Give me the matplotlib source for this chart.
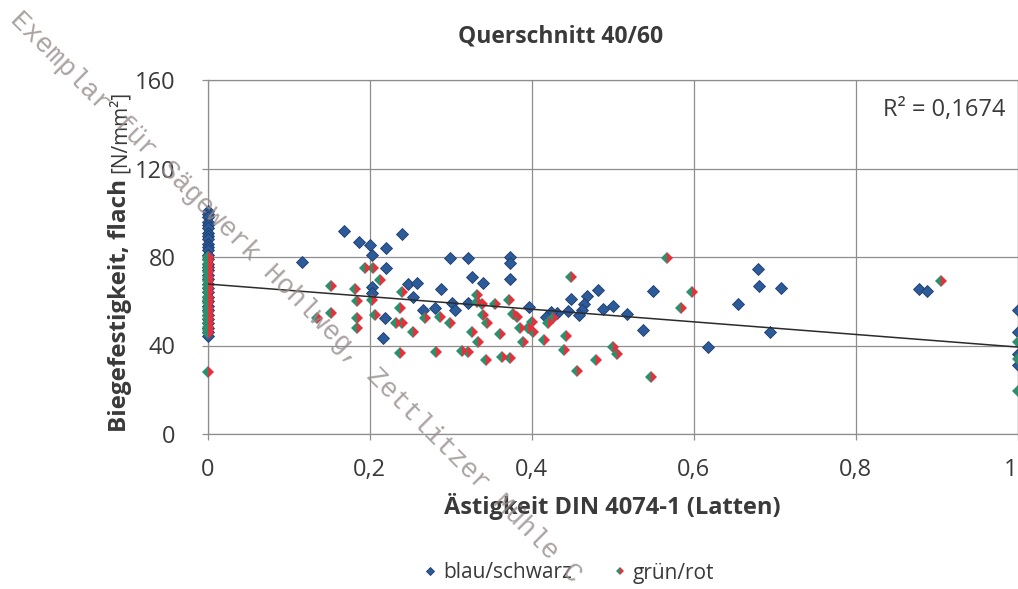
import matplotlib
matplotlib.use("Agg")
import matplotlib.pyplot as plt
from matplotlib.ticker import FixedLocator, FuncFormatter

# ---------------------------------------------------------------------------
# Data: Ästigkeit (knot ratio) vs. bending strength, cross section 40/60
# ---------------------------------------------------------------------------
title = "Querschnitt 40/60"
x_label = "Ästigkeit DIN 4074-1 (Latten)"
y_label_bold = "Biegefestigkeit, flach"
y_label_unit = "[N/mm²]"
series_names = ["blau/schwarz", "grün/rot"]

x_ticks = [0, 0.2, 0.4, 0.6, 0.8, 1.0]
y_ticks = [0, 40, 80, 120, 160]

# blau/schwarz: specimens without knots (x = 0)
blau_knotfree_y = [101, 99.5, 98, 96, 94.5, 93, 91, 89.5, 88, 86, 84.5, 83,
                   81, 79, 77, 75.5, 74, 72, 70, 68, 66, 64, 62, 60, 58, 56,
                   54, 52, 50, 48, 46, 44.5]
# blau/schwarz: specimens with knots
blau_x = [0.117, 0.168, 0.187, 0.200, 0.220, 0.203, 0.240, 0.299, 0.322,
          0.220, 0.327, 0.340, 0.248, 0.259, 0.203, 0.288, 0.203, 0.254,
          0.302, 0.306, 0.322, 0.281, 0.266, 0.219, 0.217,
          0.373, 0.373, 0.373, 0.482, 0.469, 0.449, 0.397, 0.465, 0.462,
          0.459, 0.445, 0.488, 0.501, 0.518, 0.538, 0.431, 0.424, 0.418,
          0.550, 0.618, 0.680, 0.681, 0.708, 0.655, 0.694,
          0.878, 0.888,
          1.0, 1.0, 1.0, 1.0]
blau_y = [77.7, 91.7, 86.8, 85.4, 84.0, 80.9, 90.4, 79.5, 79.5,
          75.0, 70.9, 68.2, 67.8, 68.2, 66.4, 65.5, 63.7, 61.9,
          59.2, 56.0, 59.2, 56.9, 56.0, 52.4, 43.4,
          80.0, 77.3, 70.0, 65.0, 62.4, 61.0, 57.4, 58.7, 56.0,
          53.8, 55.6, 56.5, 57.8, 54.2, 47.0, 54.7, 55.1, 52.9,
          64.6, 39.3, 74.6, 66.9, 66.0, 58.7, 46.1,
          65.5, 64.6,
          56.0, 46.1, 36.0, 31.2]

# grün/rot: specimens without knots (x = 0)
gruen_knotfree_y = [80, 78.5, 77, 75, 73, 71, 69, 67.5, 66, 64, 62, 60.5,
                    59, 57, 55, 53.5, 52, 50, 48.5, 47, 45.5, 28]
# grün/rot: specimens with knots
gruen_x = [0.152, 0.182, 0.185, 0.152, 0.135, 0.185, 0.185,
           0.195, 0.204, 0.213, 0.240, 0.333, 0.333, 0.339, 0.355, 0.203,
           0.238, 0.207, 0.269, 0.287, 0.340, 0.233, 0.240, 0.299, 0.345,
           0.254, 0.327, 0.361, 0.334, 0.238, 0.282, 0.314, 0.322, 0.344,
           0.364,
           0.449, 0.372, 0.377, 0.382, 0.426, 0.401, 0.420, 0.396, 0.386,
           0.402, 0.443, 0.416, 0.390, 0.440, 0.500, 0.506, 0.373, 0.480,
           0.456,
           0.567, 0.598, 0.585, 0.548,
           0.906,
           1.0, 1.0, 1.0]
gruen_y = [66.9, 65.5, 60.0, 54.7, 52.4, 52.4, 47.9,
           75.0, 75.0, 69.6, 64.2, 62.8, 59.6, 58.7, 58.7, 60.5,
           56.9, 53.8, 52.4, 52.9, 53.8, 50.2, 50.2, 50.2, 50.2,
           46.1, 46.1, 45.2, 41.6, 36.6, 37.1, 37.5, 37.1, 33.4,
           34.8,
           70.9, 60.5, 54.2, 52.9, 52.4, 50.6, 50.2, 47.9, 47.9,
           46.1, 44.3, 42.5, 41.6, 38.0, 39.3, 36.1, 34.3, 33.4,
           28.5,
           79.5, 64.2, 56.9, 25.8,
           69.1,
           41.6, 33.9, 19.4]

# linear trend over all specimens
trend_intercept = 67.8
trend_slope = -28.5
r_squared = 0.1674

# ---------------------------------------------------------------------------
W, H, DPI = 1018, 589, 100
FONT = "Open Sans"
TEXT_COLOR = "#3a3a3a"
GRID_COLOR = "#8e8e8e"
BLUE = "#2d5a98"
BLUE_EDGE = "#1e3d6b"
GREEN = "#2f8f6c"
RED = "#e3323c"

plt.rcParams["font.family"] = [FONT, "DejaVu Sans"]

fig = plt.figure(figsize=(W / DPI, H / DPI), dpi=DPI, facecolor="white")
ax = fig.add_axes([207.5 / W, 1 - 434 / H, (1017.5 - 207.5) / W, (434 - 80) / H])

ax.set_xlim(0, 1)
ax.set_ylim(0, 160)

blau_all_x = [0.0] * len(blau_knotfree_y) + blau_x
blau_all_y = blau_knotfree_y + blau_y
gruen_all_x = [0.0] * len(gruen_knotfree_y) + gruen_x
gruen_all_y = gruen_knotfree_y + gruen_y

ax.plot(blau_all_x, blau_all_y, linestyle="none", marker="D", markersize=6.2,
        markerfacecolor=BLUE, markeredgecolor=BLUE_EDGE, markeredgewidth=0.6,
        label=series_names[0], zorder=3, clip_on=False)
ax.plot(gruen_all_x, gruen_all_y, linestyle="none", marker="D", markersize=6.2,
        fillstyle="left", markerfacecolor=GREEN, markerfacecoloralt=RED,
        markeredgewidth=0, label=series_names[1], zorder=4, clip_on=False)

# trend line
tx = [0.0, 1.0]
ty = [trend_intercept + trend_slope * v for v in tx]
ax.plot(tx, ty, color="#2b2b2b", linewidth=1.1, zorder=5)

ax.text(0.985, 0.915, f"R² = {r_squared:.4f}".replace(".", ","),
        transform=ax.transAxes, ha="right", va="center", fontsize=17,
        color=TEXT_COLOR, zorder=6)

# axes styling
ax.xaxis.set_major_locator(FixedLocator(x_ticks))
ax.yaxis.set_major_locator(FixedLocator(y_ticks))
ax.xaxis.set_major_formatter(FuncFormatter(lambda v, p: f"{v:g}".replace(".", ",")))
ax.yaxis.set_major_formatter(FuncFormatter(lambda v, p: f"{v:g}"))
ax.grid(True, color=GRID_COLOR, linewidth=0.9)
ax.set_axisbelow(True)
for sp in ax.spines.values():
    sp.set_color(GRID_COLOR)
    sp.set_linewidth(0.9)
ax.tick_params(axis="both", direction="out", length=4, width=0.9,
               color=GRID_COLOR, labelcolor=TEXT_COLOR, labelsize=17)
ax.tick_params(axis="y", pad=19)
ax.tick_params(axis="x", pad=13)

# keep the last x label inside the sheet
fig.canvas.draw()
xlabels = ax.get_xticklabels()
xlabels[-1].set_horizontalalignment("right")
xlabels[-1].set_x(1.0)

# titles
fig.text(561 / W, 1 - 37 / H, title, ha="center", va="center",
         fontsize=16.5, fontweight="bold", color=TEXT_COLOR)
fig.text(612 / W, 1 - 506 / H, x_label, ha="center", va="center",
         fontsize=17, fontweight="bold", color=TEXT_COLOR)

# y label: bold name followed by regular unit, rotated
renderer = fig.canvas.get_renderer()
y0_px = H - 432
t1 = fig.text(120 / W, y0_px / H, y_label_bold, rotation=90,
              rotation_mode="anchor", ha="left", va="center",
              fontsize=17.5, fontweight="bold", color=TEXT_COLOR)
ext = t1.get_window_extent(renderer)
t2 = fig.text(120 / W, (y0_px + ext.height + 6) / H, y_label_unit, rotation=90,
              rotation_mode="anchor", ha="left", va="center",
              fontsize=15, color=TEXT_COLOR)

# legend
leg = fig.legend(loc="center", bbox_to_anchor=(569 / W, 1 - 573 / H), ncol=2,
                 frameon=False, fontsize=15, markerscale=0.7,
                 handlelength=0.6, handletextpad=0.3, columnspacing=2.0)
for txt in leg.get_texts():
    txt.set_color(TEXT_COLOR)

# copy mark across the sheet
fig.text(14 / W, 1 - 16 / H,
         "Exemplar für Sägewerk Hohlweg, Zettlitzer Mühle C",
         rotation=-45, rotation_mode="anchor", ha="left", va="center",
         fontsize=19.5, family=["Liberation Mono", "DejaVu Sans Mono"],
         color="#978c8c", alpha=0.8, zorder=10)

fig.savefig("out.png", dpi=DPI, facecolor="white")
